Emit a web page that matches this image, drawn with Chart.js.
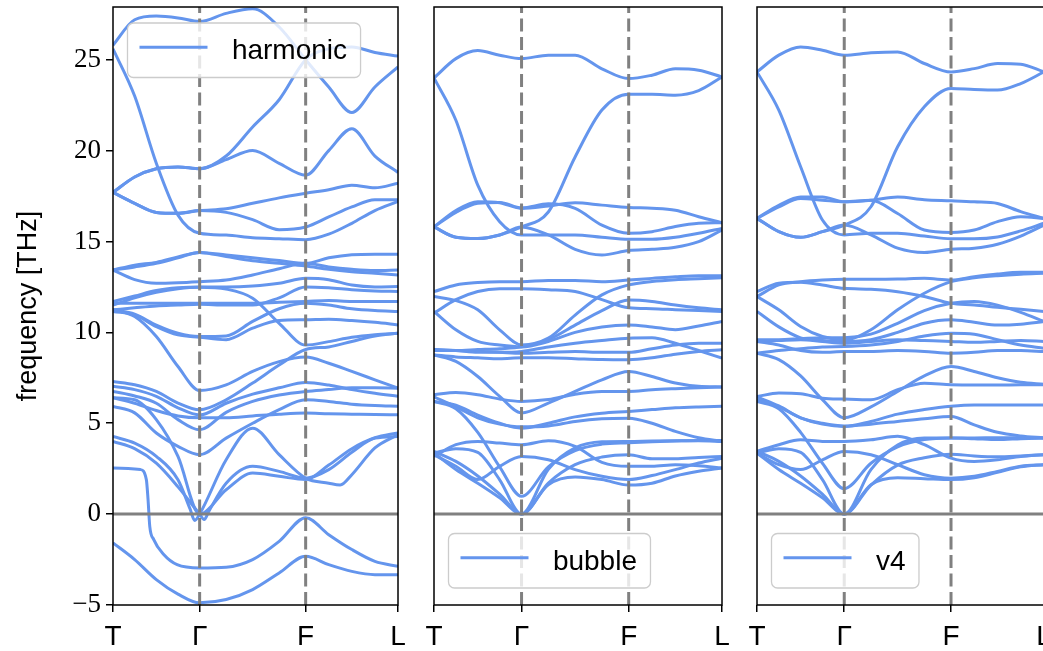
<!DOCTYPE html>
<html>
<head>
<meta charset="utf-8">
<script src="https://cdn.jsdelivr.net/npm/chart.js@4"></script>
<style>
  html, body { margin: 0; padding: 0; background: #fff; overflow: hidden; }
  #wrap { position: relative; width: 1043px; height: 651px; overflow: hidden; }
  canvas { position: absolute; top: 0; }
</style>
</head>
<body>
<div id="wrap">
  <canvas id="harmonicChart" width="412" height="651" style="left:0"></canvas>
  <canvas id="bubbleChart" width="314" height="651" style="left:420px"></canvas>
  <canvas id="v4Chart" width="302" height="651" style="left:743px"></canvas>
</div>
<script>
// path T - Gamma - F - L
const kLabels = ['T', 'Γ', 'F', 'L'];
const kPos = [0, 0.304, 0.676, 1];
const yTicks = [-5, 0, 5, 10, 15, 20, 25];
const yMin = -5, yMax = 27.9;
const qGrid = [0, 0.076, 0.152, 0.228, 0.304, 0.397, 0.49, 0.583, 0.676, 0.757, 0.838, 0.919, 1];

// harmonic bands, values on qGrid (THz)
const harmonic = [
  [25.8, 27.2, 27.4, 27.3, 27.1, 27.55, 27.8, 26.8, 25.0, 23.5, 22.1, 23.5, 24.6],
  [17.7, 18.55, 19.0, 19.1, 19.0, 19.7, 21.3, 22.8, 25.0, 25.6, 25.7, 25.4, 25.2],
  [17.7, 18.55, 19.0, 19.1, 19.0, 19.5, 20.0, 19.3, 18.65, 20.0, 21.2, 19.7, 18.8],
  [17.7, 17.1, 16.6, 16.55, 16.7, 16.8, 17.1, 17.4, 17.65, 17.85, 18.1, 17.95, 18.2],
  [17.7, 17.1, 16.6, 16.55, 16.7, 16.6, 16.2, 15.65, 15.8, 16.35, 16.9, 17.3, 17.3],
  [25.6, 23.0, 19.3, 16.45, 15.45, 15.35, 15.2, 15.15, 15.1, 15.4, 16.0, 16.7, 17.2],
  [13.43, 13.7, 13.85, 14.15, 14.4, 14.26, 14.1, 13.95, 13.8, 14.1, 14.27, 14.3, 14.3],
  [13.43, 13.6, 13.8, 14.1, 14.4, 14.17, 13.94, 13.8, 13.65, 13.47, 13.34, 13.25, 13.16],
  [13.43, 12.9, 12.7, 12.73, 12.79, 12.88, 13.16, 13.5, 13.8, 13.6, 13.47, 13.4, 13.43],
  [11.7, 12.0, 12.3, 12.45, 12.5, 12.5, 12.55, 12.7, 12.98, 12.9, 12.6, 12.5, 12.52],
  [11.5, 11.9, 12.2, 12.4, 12.48, 12.38, 11.88, 10.5, 9.3, 9.49, 9.73, 9.87, 9.95],
  [11.6, 11.6, 11.6, 11.6, 11.6, 11.6, 11.6, 11.65, 11.7, 11.75, 11.7, 11.7, 11.7],
  [11.24, 11.35, 11.45, 11.5, 11.55, 11.5, 11.5, 11.9, 12.5, 12.45, 12.35, 12.28, 12.25],
  [11.15, 10.96, 10.32, 9.86, 9.73, 9.6, 10.23, 10.65, 10.69, 10.72, 10.65, 10.55, 10.41],
  [11.24, 11.0, 10.4, 9.95, 9.77, 9.8, 10.6, 11.3, 11.6, 11.5, 11.3, 11.2, 11.15],
  [11.24, 10.87, 9.77, 8.12, 6.8, 7.11, 7.85, 8.39, 8.64, 8.3, 7.85, 7.39, 6.93],
  [7.3, 7.12, 6.75, 6.11, 5.74, 6.29, 7.21, 8.2, 9.06, 9.2, 9.5, 9.8, 9.95],
  [7.03, 6.85, 6.48, 5.85, 5.45, 6.1, 6.6, 6.95, 7.24, 7.1, 6.85, 6.65, 6.48],
  [6.75, 6.5, 6.1, 5.2, 4.64, 5.6, 6.2, 6.55, 6.75, 6.85, 6.95, 6.95, 6.93],
  [5.93, 5.57, 4.46, 3.73, 3.27, 4.18, 5.0, 5.75, 6.29, 6.2, 6.05, 5.97, 5.93],
  [6.4, 6.1, 5.7, 5.4, 5.3, 5.3, 5.4, 5.5, 5.56, 5.52, 5.5, 5.48, 5.47],
  [6.4, 6.29, 5.2, 3.18, 0, 1.34, 2.26, 2.08, 1.9, 2.7, 3.6, 4.2, 4.47],
  [-1.58, -2.5, -3.6, -4.4, -4.88, -4.7, -4.15, -3.24, -2.32, -2.78, -3.15, -3.33, -3.33],
];
// harmonic bands that need their own q points (small loops, steep drop)
const harmLoopAQ = [0, 0.076, 0.152, 0.228, 0.27, 0.287, 0.304, 0.397, 0.49, 0.583, 0.676, 0.757, 0.797, 0.838, 0.919, 1];
const harmLoopA = [4.27, 3.91, 3.18, 1.89, 0.3, -0.35, 0, 2.99, 4.73, 3.27, 1.98, 1.7, 1.6, 2.17, 3.64, 4.37];
const harmLoopBQ = [0, 0.076, 0.152, 0.228, 0.304, 0.32, 0.336, 0.397, 0.49, 0.583, 0.676, 0.757, 0.838, 0.919, 1];
const harmLoopB = [4.0, 3.6, 2.8, 1.5, 0, -0.3, 0.15, 1.7, 2.63, 2.35, 1.98, 2.45, 3.4, 4.18, 4.27];
const harmDropQ = [0, 0.096, 0.117, 0.123, 0.129, 0.143, 0.178, 0.225, 0.304, 0.397, 0.49, 0.583, 0.676, 0.757, 0.838, 0.919, 1];
const harmDrop = [2.54, 2.45, 1.9, 0.8, -0.67, -1.4, -2.22, -2.78, -2.96, -2.92, -2.5, -1.5, -0.2, -1.13, -1.95, -2.6, -2.87];

// bubble bands, values on qGrid
const bubble = [
  [24.0, 25.06, 25.5, 25.25, 25.06, 25.25, 25.25, 24.5, 23.96, 24.15, 24.5, 24.42, 24.05],
  [24.0, 21.67, 18.1, 16.09, 15.36, 15.36, 15.36, 15.23, 15.12, 15.12, 15.23, 15.45, 15.72],
  [15.8, 15.23, 15.16, 15.36, 15.8, 16.62, 19.65, 22.23, 23.1, 23.1, 23.05, 23.3, 24.05],
  [15.8, 16.7, 17.19, 17.13, 16.82, 16.95, 17.13, 17.0, 16.87, 16.83, 16.72, 16.36, 16.03],
  [15.8, 16.6, 17.1, 17.15, 16.85, 17.07, 16.82, 15.9, 15.45, 15.54, 15.82, 16.0, 16.03],
  [15.8, 15.23, 15.16, 15.36, 15.8, 15.36, 14.57, 14.26, 14.5, 14.57, 14.68, 14.99, 15.63],
  [12.24, 12.61, 12.74, 12.79, 12.79, 12.85, 12.85, 12.79, 12.88, 12.97, 13.06, 13.12, 13.12],
  [11.06, 11.8, 12.25, 12.4, 12.4, 12.35, 12.25, 11.8, 11.35, 11.3, 11.25, 11.2, 11.15],
  [11.97, 11.75, 11.24, 10.14, 9.31, 9.68, 10.95, 12.06, 12.61, 12.8, 12.9, 12.95, 13.0],
  [11.15, 10.14, 9.5, 9.3, 9.2, 9.5, 10.0, 10.3, 10.41, 10.3, 10.15, 10.35, 10.6],
  [9.0, 9.0, 9.05, 9.1, 9.2, 9.6, 10.4, 11.2, 11.78, 11.7, 11.5, 11.35, 11.24],
  [9.05, 9.0, 8.95, 8.9, 8.85, 8.9, 8.95, 8.9, 8.9, 9.1, 9.3, 9.4, 9.4],
  [8.76, 8.65, 8.6, 8.55, 8.6, 8.6, 8.55, 8.5, 8.49, 8.6, 8.8, 8.95, 9.04],
  [9.05, 9.0, 8.9, 8.9, 8.95, 9.2, 9.4, 9.55, 9.68, 9.7, 9.4, 9.0, 8.58],
  [8.76, 8.4, 7.57, 6.48, 5.57, 6.11, 6.75, 7.39, 7.85, 7.57, 7.21, 7.03, 7.0],
  [6.57, 6.69, 6.57, 6.33, 6.2, 6.3, 6.6, 6.75, 6.75, 6.84, 6.9, 6.95, 7.0],
  [6.2, 6.0, 5.45, 5.0, 4.73, 5.0, 5.35, 5.55, 5.65, 5.75, 5.85, 5.9, 5.93],
  [6.45, 5.9, 5.3, 4.95, 4.8, 4.85, 5.1, 5.25, 5.28, 5.0, 4.55, 4.2, 4.0],
  [3.17, 3.82, 4.0, 3.91, 3.82, 4.04, 3.73, 2.85, 2.63, 2.63, 2.72, 2.66, 2.54],
  [3.26, 2.63, 1.9, 2.63, 3.17, 2.99, 2.45, 2.08, 1.9, 2.12, 2.45, 2.81, 3.08],
  [3.45, 2.9, 2.1, 1.1, 0, 2.47, 3.64, 3.98, 4.0, 4.02, 4.03, 4.03, 4.0],
  [3.36, 3.6, 3.4, 1.89, 0, 1.71, 2.72, 3.14, 3.27, 3.05, 3.05, 3.12, 3.17],
  [3.36, 2.45, 1.7, 0.9, 0, 1.62, 2.04, 1.9, 1.6, 1.7, 2.1, 2.36, 2.54],
  [6.2, 5.8, 4.5, 2.6, 0.98, 2.6, 3.5, 3.85, 3.93, 3.98, 4.02, 4.05, 4.05],
];

// v4 bands, values on qGrid
const v4 = [
  [24.33, 25.25, 25.7, 25.52, 25.25, 25.38, 25.43, 24.79, 24.33, 24.51, 24.79, 24.75, 24.33],
  [24.33, 22.23, 19.11, 16.18, 15.36, 15.45, 15.45, 15.3, 15.15, 15.15, 15.25, 15.58, 16.0],
  [16.27, 15.54, 15.23, 15.54, 15.9, 16.91, 20.21, 22.41, 23.42, 23.36, 23.33, 23.69, 24.33],
  [16.27, 16.99, 17.45, 17.45, 17.18, 17.27, 17.45, 17.3, 17.24, 17.18, 17.09, 16.64, 16.27],
  [16.27, 16.9, 17.36, 17.27, 17.18, 17.27, 16.54, 15.63, 15.5, 15.63, 16.09, 16.36, 16.27],
  [16.27, 15.54, 15.23, 15.54, 15.9, 15.36, 14.63, 14.39, 14.57, 14.63, 14.85, 15.3, 15.9],
  [11.97, 12.61, 12.79, 12.88, 12.92, 12.92, 12.93, 12.97, 12.88, 13.06, 13.21, 13.3, 13.3],
  [12.24, 12.7, 12.75, 12.6, 12.42, 12.37, 12.24, 11.97, 11.6, 11.51, 11.38, 11.27, 11.15],
  [11.97, 11.24, 10.32, 9.77, 9.59, 10.14, 11.24, 12.15, 12.79, 13.0, 13.12, 13.2, 13.25],
  [11.15, 10.3, 9.7, 9.55, 9.5, 9.6, 10.0, 10.5, 10.69, 10.55, 10.4, 10.45, 10.6],
  [9.6, 9.6, 9.65, 9.7, 9.7, 9.9, 10.5, 11.2, 11.6, 11.7, 11.5, 11.1, 10.6],
  [9.5, 9.55, 9.6, 9.5, 9.4, 9.5, 9.6, 9.55, 9.5, 9.45, 9.5, 9.55, 9.5],
  [8.85, 9.0, 9.1, 9.2, 9.22, 9.3, 9.5, 9.8, 9.95, 9.9, 9.6, 9.3, 9.13],
  [9.5, 9.3, 9.0, 8.9, 8.95, 8.95, 9.0, 8.95, 8.85, 8.9, 9.0, 9.0, 8.94],
  [8.85, 8.5, 7.6, 6.3, 5.3, 5.9, 6.75, 7.6, 8.12, 7.85, 7.5, 7.25, 7.15],
  [6.47, 6.66, 6.62, 6.38, 6.33, 6.29, 6.84, 7.2, 7.12, 7.1, 7.1, 7.12, 7.12],
  [6.3, 5.9, 5.3, 4.95, 4.82, 5.1, 5.5, 5.75, 5.93, 6.0, 6.0, 6.0, 6.0],
  [6.45, 5.95, 5.3, 5.0, 4.85, 4.95, 5.1, 5.25, 5.37, 4.91, 4.5, 4.3, 4.19],
  [3.46, 3.82, 4.09, 4.0, 4.0, 4.09, 4.28, 3.82, 3.08, 2.9, 2.99, 3.17, 3.27],
  [3.36, 2.72, 2.45, 2.99, 3.45, 3.27, 2.72, 2.17, 1.98, 2.08, 2.35, 2.63, 2.72],
  [3.46, 2.9, 2.1, 1.1, 0, 2.45, 3.8, 4.19, 4.19, 4.19, 4.2, 4.2, 4.19],
  [3.36, 3.6, 3.4, 1.9, 0, 1.6, 2.7, 3.1, 3.3, 3.2, 3.15, 3.2, 3.27],
  [3.36, 2.45, 1.7, 0.9, 0, 1.62, 2.0, 1.95, 1.9, 2.0, 2.3, 2.6, 2.72],
  [6.2, 5.8, 4.5, 2.8, 1.4, 2.8, 3.7, 4.1, 4.19, 4.15, 4.1, 4.15, 4.19],
];

const BLUE = '#6495ED';
const GREY = '#808080';
const SANS = '"Liberation Sans", Arial, sans-serif';
const SERIF = '"Liberation Serif", "DejaVu Serif", serif';

const bandSet = (q, v) => ({
  data: q.map((x, i) => ({ x: x, y: v[i] })),
  borderColor: BLUE,
  borderWidth: 3,
  pointRadius: 0,
  fill: false,
  cubicInterpolationMode: 'monotone',
});

// reference lines go first so they are drawn on top of the bands
const refSets = () => [
  { data: [{ x: 0, y: 0 }, { x: 1, y: 0 }], borderColor: GREY, borderWidth: 3, pointRadius: 0 },
  { data: [{ x: kPos[1], y: yMin }, { x: kPos[1], y: yMax }], borderColor: GREY, borderWidth: 3, borderDash: [13, 5.5], pointRadius: 0 },
  { data: [{ x: kPos[2], y: yMin }, { x: kPos[2], y: yMax }], borderColor: GREY, borderWidth: 3, borderDash: [13, 5.5], pointRadius: 0 },
];

const framePlugin = {
  id: 'frame',
  afterDatasetsDraw(chart) {
    const { ctx, chartArea: a } = chart;
    ctx.save();
    ctx.strokeStyle = '#000';
    ctx.lineWidth = 1.5;
    ctx.strokeRect(a.left, a.top, a.right - a.left, a.bottom - a.top);
    ctx.restore();
  },
};

const bandLegend = {
  id: 'bandLegend',
  afterDraw(chart, args, opts) {
    const { ctx, chartArea: a } = chart;
    ctx.save();
    ctx.font = '28px ' + SANS;
    const tw = ctx.measureText(opts.text).width;
    const w = 12 + 68 + 24.4 + tw + 13.5;
    const h = 54.5;
    const x = a.left + 14.5;
    const y = opts.where === 'top' ? a.top + 16 : a.bottom - 17 - h;
    ctx.beginPath();
    ctx.roundRect(x, y, w, h, 6);
    ctx.fillStyle = 'rgba(255,255,255,0.8)';
    ctx.fill();
    ctx.strokeStyle = '#cccccc';
    ctx.lineWidth = 1.3;
    ctx.stroke();
    ctx.beginPath();
    ctx.moveTo(x + 12, y + 24.3);
    ctx.lineTo(x + 80, y + 24.3);
    ctx.strokeStyle = BLUE;
    ctx.lineWidth = 3;
    ctx.stroke();
    ctx.fillStyle = '#000';
    ctx.textBaseline = 'alphabetic';
    ctx.fillText(opts.text, x + 104.4, y + 36);
    ctx.restore();
  },
};

function makePanel(id, sets, label, where, showY, padLeft, padRight) {
  new Chart(document.getElementById(id), {
    type: 'line',
    data: { datasets: refSets().concat(sets) },
    plugins: [framePlugin, bandLegend],
    options: {
      responsive: false,
      animation: false,
      events: [],
      layout: { padding: { top: 7, left: padLeft, right: padRight, bottom: 0 } },
      plugins: {
        legend: { display: false },
        tooltip: { enabled: false },
        bandLegend: { text: label, where: where },
      },
      scales: {
        x: {
          type: 'linear',
          min: 0,
          max: 1,
          afterBuildTicks: (axis) => { axis.ticks = kPos.map(v => ({ value: v })); },
          afterFit: (axis) => {
            axis.height = 46;
            axis.paddingLeft = 0;
            axis.paddingRight = 0;
          },
          ticks: {
            autoSkip: false,
            maxRotation: 0,
            padding: 8,
            color: '#000',
            font: { family: SANS, size: 28 },
            callback: (v, i) => kLabels[i],
          },
          grid: { drawOnChartArea: false, drawTicks: true, tickLength: 7, color: '#000', lineWidth: 1.5 },
          border: { display: false },
        },
        y: {
          display: showY,
          min: yMin,
          max: yMax,
          afterBuildTicks: (axis) => { axis.ticks = yTicks.map(v => ({ value: v })); },
          afterFit: (axis) => {
            if (showY) axis.width = 113;
            axis.paddingTop = 0;
            axis.paddingBottom = 0;
          },
          ticks: {
            padding: 5,
            color: '#000',
            font: { family: SERIF, size: 27 },
            callback: (v) => (v < 0 ? '\u2212' + Math.abs(v) : String(v)),
          },
          grid: { drawOnChartArea: false, drawTicks: true, tickLength: 7, color: '#000', lineWidth: 1.5 },
          border: { display: false },
          title: {
            display: showY,
            text: 'frequency [THz]',
            color: '#000',
            font: { family: SANS, size: 27 },
            padding: { top: 12, bottom: 4 },
          },
        },
      },
    },
  });
}

const harmonicSets = harmonic.map(v => bandSet(qGrid, v)).concat([
  bandSet(harmLoopAQ, harmLoopA),
  bandSet(harmLoopBQ, harmLoopB),
  bandSet(harmDropQ, harmDrop),
]);

makePanel('harmonicChart', harmonicSets, 'harmonic', 'top', true, 0, 14);
makePanel('bubbleChart', bubble.map(v => bandSet(qGrid, v)), 'bubble', 'bottom', false, 14, 12);
makePanel('v4Chart', v4.map(v => bandSet(qGrid, v)), 'v4', 'bottom', false, 14, 1);
</script>
</body>
</html>
